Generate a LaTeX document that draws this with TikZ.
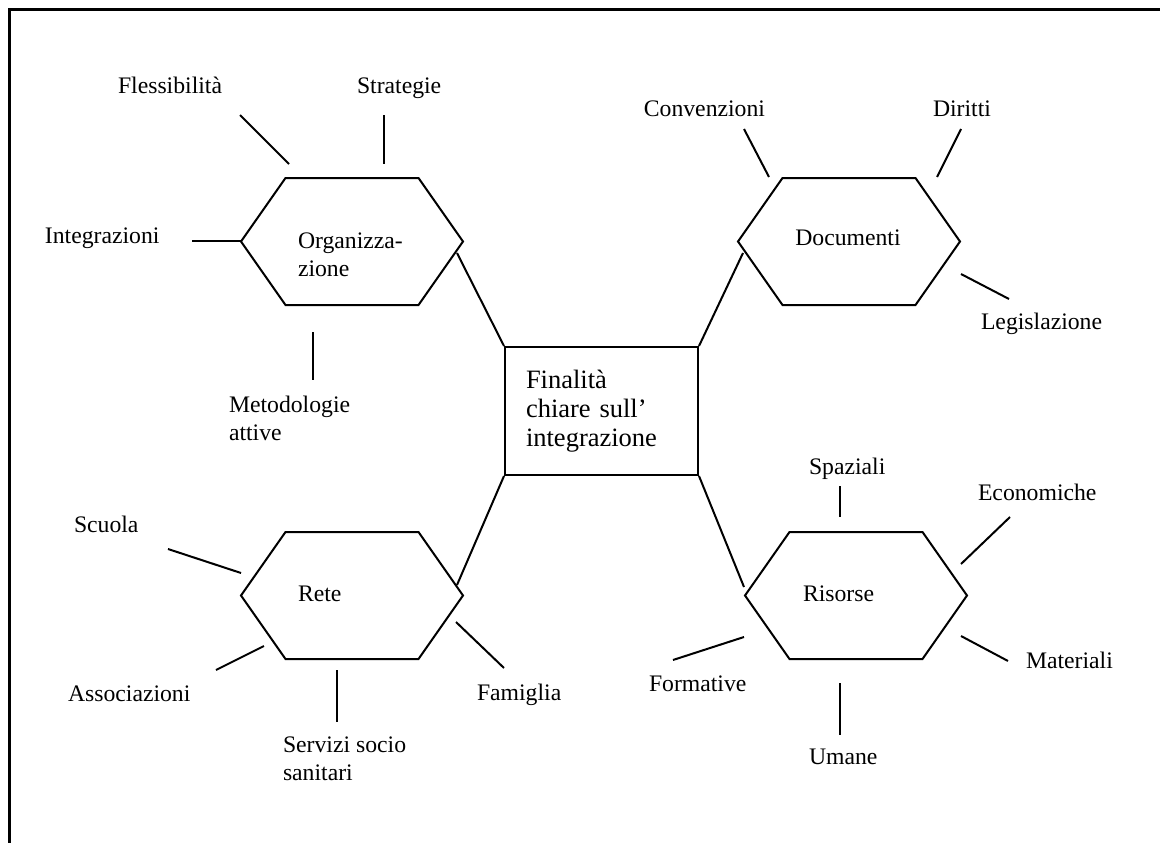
\documentclass[tikz,border=0pt]{standalone}
\usepackage{fontspec}
\setmainfont{Liberation Serif}
\begin{document}
\begin{tikzpicture}[x=1pt,y=-1pt,
  line width=2pt,
  lab/.style={font=\fontsize{23.7}{28}\selectfont, inner sep=0pt, anchor=base west},
  hexline/.style={line width=2pt, line join=miter},
  spoke/.style={line width=2pt},
  hexa/.pic={\draw[hexline] (-111,0) -- (-66.5,-63.5) -- (66.5,-63.5)
                -- (111,0) -- (66.5,63.5) -- (-66.5,63.5) -- cycle;}
]
\useasboundingbox (0,0) rectangle (1160,843);

% page frame (top and left edges)
\draw[line width=3pt] (9.5,843) -- (9.5,10) -- (1160,10);

% central box
\node[draw, line width=2pt, anchor=north west, minimum width=193, minimum height=128,
      inner xsep=21pt, text width=151pt, align=left,
      font=\fontsize{26.5}{29.3}\selectfont] (fin) at (504,346)
  {Finalità\\chiare sull’\\integrazione};

% four hexagons
\pic at (352,241.5) {hexa};
\pic at (849,241.5) {hexa};
\pic at (352,595.5) {hexa};
\pic at (856,595.5) {hexa};

\node[lab] (org) at (297,248) {\begin{tabular}[t]{@{}l@{}}Organizza-\\zione\end{tabular}};
\node[lab, anchor=base] (doc) at (848,245) {Documenti};
\node[lab] (rete) at (297,601) {Rete};
\node[lab] (ris) at (802,601) {Risorse};

% links from the hexagons to the central box
\coordinate (org-se) at (457,253);
\coordinate (doc-sw) at (743,253);
\coordinate (rete-ne) at (457,585);
\coordinate (ris-nw) at (744,587);
\draw[spoke] (org-se) -- (fin.north west);
\draw[spoke] (doc-sw) -- (fin.north east);
\draw[spoke] (rete-ne) -- (fin.south west);
\draw[spoke] (ris-nw) -- (fin.south east);

% Organizzazione
\node[lab] (fles) at (117,93) {Flessibilità};
\node[lab] (strat) at (356,93) {Strategie};
\node[lab] (integ) at (44,243) {Integrazioni};
\node[lab] (metod) at (228,412) {\begin{tabular}[t]{@{}l@{}}Metodologie\\attive\end{tabular}};
\coordinate (fles-a) at (240,115);   \coordinate (fles-b) at (289,164);
\coordinate (strat-a) at (384,115);  \coordinate (strat-b) at (384,164);
\coordinate (integ-a) at (192,241);  \coordinate (integ-b) at (241,241);
\coordinate (metod-a) at (313,332);  \coordinate (metod-b) at (313,380);
\draw[spoke] (fles-a) -- (fles-b);
\draw[spoke] (strat-a) -- (strat-b);
\draw[spoke] (integ-a) -- (integ-b);
\draw[spoke] (metod-a) -- (metod-b);

% Documenti
\node[lab, anchor=base east] (conv) at (766,117) {Convenzioni};
\node[lab] (dir) at (932,117) {Diritti};
\node[lab] (legis) at (980,329) {Legislazione};
\coordinate (conv-a) at (744,129);   \coordinate (conv-b) at (769,177);
\coordinate (dir-a) at (961,129);    \coordinate (dir-b) at (937,177);
\coordinate (legis-a) at (961,274);  \coordinate (legis-b) at (1009,299);
\draw[spoke] (conv-a) -- (conv-b);
\draw[spoke] (dir-a) -- (dir-b);
\draw[spoke] (legis-a) -- (legis-b);

% Rete
\node[lab] (scuola) at (73,532) {Scuola};
\node[lab] (assoc) at (67,701) {Associazioni};
\node[lab] (fam) at (476,700) {Famiglia};
\node[lab] (serv) at (282,752) {\begin{tabular}[t]{@{}l@{}}Servizi socio\\sanitari\end{tabular}};
\coordinate (scuola-a) at (168,549); \coordinate (scuola-b) at (241,573);
\coordinate (assoc-a) at (216,670);  \coordinate (assoc-b) at (264,646);
\coordinate (fam-a) at (456,622);    \coordinate (fam-b) at (504,668);
\coordinate (serv-a) at (337,670);   \coordinate (serv-b) at (337,722);
\draw[spoke] (scuola-a) -- (scuola-b);
\draw[spoke] (assoc-a) -- (assoc-b);
\draw[spoke] (fam-a) -- (fam-b);
\draw[spoke] (serv-a) -- (serv-b);

% Risorse
\node[lab] (spaz) at (808,474) {Spaziali};
\node[lab] (econ) at (977,500) {Economiche};
\node[lab] (mat) at (1025,668) {Materiali};
\node[lab] (form) at (648,691) {Formative};
\node[lab] (uman) at (808,764) {Umane};
\coordinate (spaz-a) at (840,486);   \coordinate (spaz-b) at (840,517);
\coordinate (econ-a) at (1010,517);  \coordinate (econ-b) at (961,564);
\coordinate (mat-a) at (961,636);    \coordinate (mat-b) at (1008,661);
\coordinate (form-a) at (744,637);   \coordinate (form-b) at (673,660);
\coordinate (uman-a) at (840,683);   \coordinate (uman-b) at (840,735);
\draw[spoke] (spaz-a) -- (spaz-b);
\draw[spoke] (econ-a) -- (econ-b);
\draw[spoke] (mat-a) -- (mat-b);
\draw[spoke] (form-a) -- (form-b);
\draw[spoke] (uman-a) -- (uman-b);
\end{tikzpicture}
\end{document}
